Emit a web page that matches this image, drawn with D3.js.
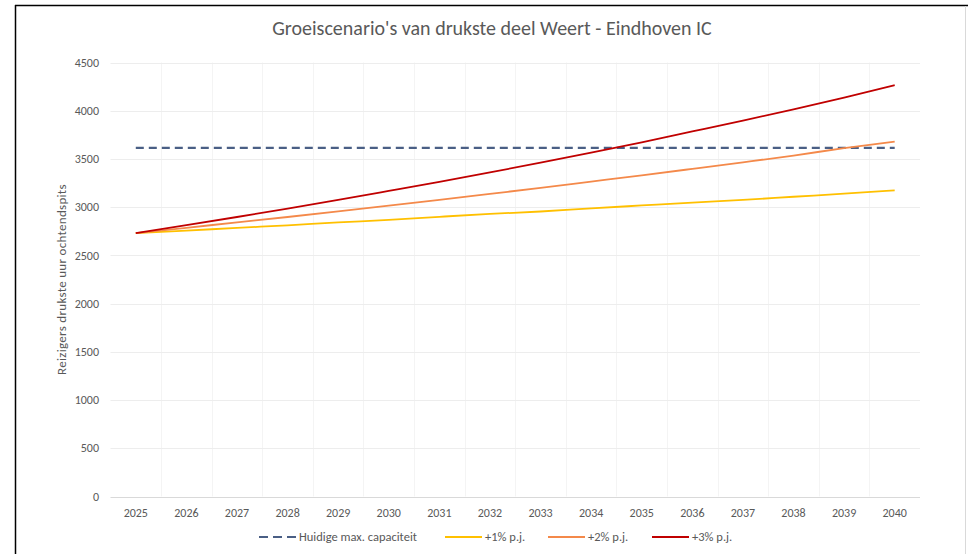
<!DOCTYPE html>
<html>
<head>
<meta charset="utf-8">
<script src="https://cdn.jsdelivr.net/npm/d3@7"></script>
<style>
  body { margin: 0; background: #fff; }
  svg { display: block; font-family: Carlito, "Liberation Sans Narrow", "Open Sans", sans-serif; }
</style>
</head>
<body>
<div id="chart"></div>
<script>
// Groeiscenario's Weert - Eindhoven IC
const years = ["2025","2026","2027","2028","2029","2030","2031","2032","2033","2034","2035","2036","2037","2038","2039","2040"];
const capacity = [3615,3615,3615,3615,3615,3615,3615,3615,3615,3615,3615,3615,3615,3615,3615,3615];
const plus1 = [2730,2757,2785,2812,2842,2868,2900,2930,2955,2988,3018,3048,3075,3108,3140,3175];
const plus2 = [2730,2786,2842,2898,2956,3015,3076,3138,3200,3265,3330,3397,3465,3535,3612,3680];
const plus3 = [2730,2813,2898,2985,3075,3168,3262,3360,3462,3566,3673,3785,3898,4015,4136,4265];
const yTicks = [0,500,1000,1500,2000,2500,3000,3500,4000,4500];

const series = [
  { name: "Huidige max. capaciteit", values: capacity, color: "#4A5F85", dash: "8,5" },
  { name: "+1% p.j.", values: plus1, color: "#FFC000", dash: null },
  { name: "+2% p.j.", values: plus2, color: "#F4894A", dash: null },
  { name: "+3% p.j.", values: plus3, color: "#C00000", dash: null }
];

const width = 968, height = 554;
const margin = { left: 110.5, right: 48, top: 62.5, bottom: 57.5 };

const svg = d3.select("#chart").append("svg")
  .attr("width", width)
  .attr("height", height);

// frame
svg.append("line").attr("x1", 15).attr("x2", width).attr("y1", 5.5).attr("y2", 5.5)
  .attr("stroke", "#000").attr("stroke-width", 1.5);
svg.append("line").attr("x1", 15.5).attr("x2", 15.5).attr("y1", 5).attr("y2", height)
  .attr("stroke", "#000").attr("stroke-width", 1.5);
svg.append("line").attr("x1", 965.5).attr("x2", 965.5).attr("y1", 6).attr("y2", height)
  .attr("stroke", "#D9D9D9").attr("stroke-width", 1);

const x = d3.scaleBand()
  .domain(years)
  .range([margin.left, width - margin.right]);

const y = d3.scaleLinear()
  .domain([0, 4500])
  .range([height - margin.bottom, margin.top]);

// vertical grid (band boundaries)
svg.append("g")
  .selectAll("line")
  .data(years.slice(1))
  .enter().append("line")
  .attr("x1", d => Math.round(x(d)) + 0.5)
  .attr("x2", d => Math.round(x(d)) + 0.5)
  .attr("y1", y(4500))
  .attr("y2", y(0))
  .attr("stroke", "#F4F4F4");

// horizontal grid
svg.append("g")
  .selectAll("line")
  .data(yTicks)
  .enter().append("line")
  .attr("x1", margin.left)
  .attr("x2", width - margin.right)
  .attr("y1", d => Math.round(y(d)) + 0.5)
  .attr("y2", d => Math.round(y(d)) + 0.5)
  .attr("stroke", d => d === 0 ? "#D9D9D9" : "#EDEDED");

// y tick labels
svg.append("g")
  .selectAll("text")
  .data(yTicks)
  .enter().append("text")
  .attr("x", 99)
  .attr("y", d => y(d))
  .attr("dy", "0.35em")
  .attr("text-anchor", "end")
  .attr("font-size", "12px")
  .attr("fill", "#595959")
  .text(d => d);

// x tick labels
svg.append("g")
  .selectAll("text")
  .data(years)
  .enter().append("text")
  .attr("x", d => x(d) + x.bandwidth() / 2)
  .attr("y", 517)
  .attr("text-anchor", "middle")
  .attr("font-size", "12px")
  .attr("fill", "#595959")
  .text(d => d);

// title
svg.append("text")
  .attr("x", 492)
  .attr("y", 35)
  .attr("text-anchor", "middle")
  .attr("font-size", "20px")
  .attr("fill", "#595959")
  .text("Groeiscenario's van drukste deel Weert - Eindhoven IC");

// y axis title
svg.append("text")
  .attr("transform", "translate(66," + y(2250) + ") rotate(-90)")
  .attr("text-anchor", "middle")
  .attr("font-size", "13px")
  .attr("letter-spacing", "0.3px")
  .attr("fill", "#595959")
  .text("Reizigers drukste uur ochtendspits");

const line = d3.line()
  .x((d, i) => x(years[i]) + x.bandwidth() / 2)
  .y(d => y(d))
  .curve(d3.curveMonotoneX);

svg.append("g")
  .selectAll("path")
  .data(series)
  .enter().append("path")
  .attr("d", d => line(d.values))
  .attr("fill", "none")
  .attr("stroke", d => d.color)
  .attr("stroke-width", d => d.dash ? 2.2 : 1.8)
  .attr("stroke-dasharray", d => d.dash);

// legend
const legendX = [259, 445, 548, 652];
const legend = svg.append("g")
  .selectAll("g")
  .data(series)
  .enter().append("g")
  .attr("transform", (d, i) => "translate(" + legendX[i] + ",537)");

legend.append("line")
  .attr("x1", 0).attr("x2", 37)
  .attr("y1", 0).attr("y2", 0)
  .attr("stroke", d => d.color)
  .attr("stroke-width", d => d.dash ? 2.2 : 1.8)
  .attr("stroke-dasharray", d => d.dash ? "9,5" : null);

legend.append("text")
  .attr("x", 40)
  .attr("y", 0)
  .attr("dy", "0.35em")
  .attr("font-size", "12.5px")
  .attr("fill", "#595959")
  .text(d => d.name);
</script>
</body>
</html>
